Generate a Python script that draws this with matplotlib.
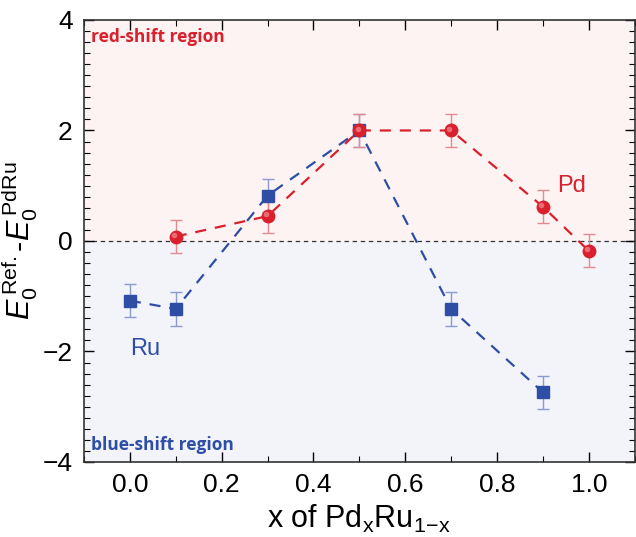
import matplotlib
matplotlib.use("Agg")
import matplotlib.pyplot as plt
from matplotlib.ticker import MultipleLocator
from matplotlib.transforms import offset_copy

# ── Data ──────────────────────────────────────────────────────
pd_x   = [0.1, 0.3, 0.5, 0.7, 0.9, 1.0]
pd_y   = [0.08, 0.45, 2.0, 2.0, 0.62, -0.18]
pd_err = [0.3, 0.3, 0.3, 0.3, 0.3, 0.3]

ru_x   = [0.0, 0.1, 0.3, 0.5, 0.7, 0.9]
ru_y   = [-1.08, -1.23, 0.82, 2.0, -1.23, -2.74]
ru_err = [0.3, 0.3, 0.3, 0.3, 0.3, 0.3]

RED  = "#d9202c"
BLUE = "#2e4ea6"

plt.rcParams["font.family"] = ["Liberation Sans", "DejaVu Sans"]
plt.rcParams["mathtext.fontset"] = "custom"
plt.rcParams["mathtext.rm"] = "Liberation Sans"
plt.rcParams["mathtext.it"] = "Liberation Sans:italic"

fig = plt.figure(figsize=(6.36, 5.37), dpi=100)
ax = fig.add_axes([0.132, 0.1397, 0.866, 0.8231])

ax.set_xlim(-0.1, 1.1)
ax.set_ylim(-4, 4)

# shaded regions
ax.axhspan(0, 4, color="#fdf3f3", zorder=0)
ax.axhspan(-4, 0, color="#f3f3fa", zorder=0)
ax.axhline(0, color="#333333", lw=0.9, ls=(0, (3.5, 3)), zorder=1)

# Ru series
ax.plot(ru_x, ru_y, ls=(0, (5, 4)), color=BLUE, lw=1.6, zorder=2)
ax.errorbar(ru_x, ru_y, yerr=ru_err, fmt="none", ecolor="#8a9bd0",
            elinewidth=1.0, capsize=4, capthick=1.0, zorder=3)
ax.plot(ru_x, ru_y, "s", color=BLUE, ms=9, ls="none", zorder=4)

# Pd series (shaded spheres)
ax.plot(pd_x, pd_y, ls=(0, (5, 4)), color=RED, lw=1.6, zorder=2)
ax.errorbar(pd_x, pd_y, yerr=pd_err, fmt="none", ecolor="#e58a90",
            elinewidth=1.0, capsize=4, capthick=1.0, zorder=3)
ax.plot(pd_x, pd_y, "o", color=RED, ms=10, ls="none", zorder=5,
        markeredgewidth=0)
hl = offset_copy(ax.transData, fig=fig, x=-1.2, y=1.2, units="points")
ax.plot(pd_x, pd_y, "o", color="#f07f87", ms=4, ls="none", zorder=6,
        markeredgewidth=0, alpha=0.8, transform=hl)

# annotations
ax.text(-0.085, 3.7, "red-shift region", color=RED, fontsize=12.5,
        fontweight="bold", family=["Open Sans", "DejaVu Sans"], va="center")
ax.text(-0.085, -3.7, "blue-shift region", color=BLUE, fontsize=12.5,
        fontweight="bold", family=["Open Sans", "DejaVu Sans"], va="center")
ax.text(0.93, 1.0, "Pd", color=RED, fontsize=17, va="center")
ax.text(0.0, -1.95, "Ru", color=BLUE, fontsize=17, va="center")

# axes styling
ax.xaxis.set_major_locator(MultipleLocator(0.2))
ax.xaxis.set_minor_locator(MultipleLocator(0.1))
ax.yaxis.set_major_locator(MultipleLocator(2))
ax.yaxis.set_minor_locator(MultipleLocator(0.2))
ax.tick_params(which="both", direction="in", top=True, right=True)
ax.tick_params(which="major", length=7, width=1.0, labelsize=19, pad=8)
ax.tick_params(which="minor", length=4, width=0.8)
ax.xaxis.set_major_formatter(plt.FuncFormatter(lambda v, p: f"{v:.1f}"))
ax.yaxis.set_major_formatter(plt.FuncFormatter(lambda v, p: f"{v:.0f}".replace("-", "\u2212")))
for s in ax.spines.values():
    s.set_linewidth(1.2)
    s.set_color("#333333")

ax.set_xlabel(r"x of Pd$_{\mathrm{x}}$Ru$_{\mathrm{1\!-\!x}}$", fontsize=22,
              labelpad=4)
ax.set_ylabel(r"$E_0^{\,\mathrm{Ref.}}$-$E_0^{\,\mathrm{PdRu}}$", fontsize=22,
              labelpad=2)

fig.savefig("out.png", dpi=100)
